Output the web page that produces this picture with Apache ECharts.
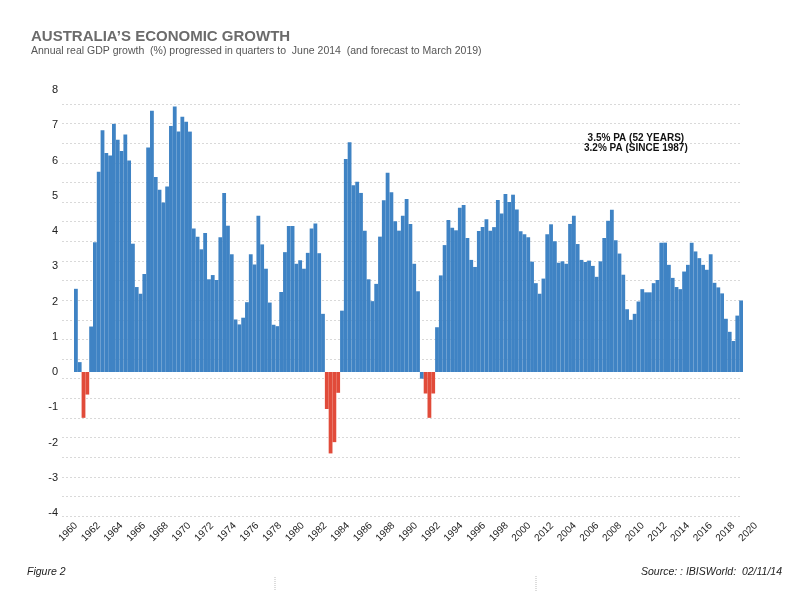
<!DOCTYPE html>
<html lang="en">
<head>
    <meta charset="UTF-8">
    <title>Australia's Economic Growth</title>
    <style>
        html, body { margin: 0; padding: 0; background: #fff; }
    </style>
</head>
<body>
    <div id="main" style="width: 797px;height:591px;"></div>
    <script src="https://cdn.jsdelivr.net/npm/echarts@6/dist/echarts.min.js"></script>
    <script type="text/javascript">
        var myChart = echarts.init(document.getElementById('main'));

        // annual real GDP growth (%), one bar per quarter
        var gdpGrowth = [
            2.36, 0.28, -1.30, -0.64, 1.29, 3.68, 5.68, 6.86, 6.21, 6.14,
            7.04, 6.59, 6.27, 6.74, 6.00, 3.64, 2.41, 2.22, 2.78, 6.37,
            7.41, 5.53, 5.17, 4.81, 5.26, 6.98, 7.53, 6.82, 7.24, 7.10,
            6.82, 4.07, 3.84, 3.48, 3.94, 2.63, 2.75, 2.61, 3.82, 5.08,
            4.15, 3.34, 1.49, 1.35, 1.54, 1.98, 3.34, 3.05, 4.43, 3.62,
            2.93, 1.97, 1.34, 1.30, 2.27, 3.40, 4.14, 4.14, 3.07, 3.17,
            2.93, 3.38, 4.07, 4.21, 3.37, 1.65, -1.05, -2.31, -1.99, -0.59,
            1.74, 6.04, 6.52, 5.30, 5.40, 5.08, 4.01, 2.63, 2.01, 2.50,
            3.84, 4.87, 5.65, 5.10, 4.28, 4.01, 4.43, 4.91, 4.20, 3.07,
            2.29, -0.19, -0.61, -1.30, -0.61, 1.27, 2.74, 3.60, 4.31, 4.09,
            4.02, 4.66, 4.74, 3.80, 3.18, 2.98, 4.00, 4.11, 4.33, 4.01,
            4.11, 4.88, 4.50, 5.05, 4.82, 5.03, 4.61, 3.99, 3.91, 3.82,
            3.13, 2.52, 2.22, 2.65, 3.91, 4.19, 3.71, 3.10, 3.14, 3.07,
            4.20, 4.43, 3.63, 3.18, 3.12, 3.16, 3.01, 2.70, 3.14, 3.80,
            4.29, 4.60, 3.74, 3.36, 2.76, 1.78, 1.48, 1.65, 2.00, 2.35,
            2.26, 2.26, 2.52, 2.61, 3.67, 3.67, 3.04, 2.67, 2.41, 2.35,
            2.85, 3.04, 3.67, 3.42, 3.23, 3.04, 2.90, 3.34, 2.53, 2.40,
            2.23, 1.51, 1.14, 0.88, 1.60, 2.03
        ];
        var barCategories = gdpGrowth.map(function (v, i) { return 'Q' + i; });

        // year labels as printed under the axis (including the "2012" in place of 2002)
        var yearLabels = [
            '1960', '1962', '1964', '1966', '1968', '1970', '1972', '1974',
            '1976', '1978', '1980', '1982', '1984', '1986', '1988', '1990',
            '1992', '1994', '1996', '1998', '2000', '2012', '2004', '2006',
            '2008', '2010', '2012', '2014', '2016', '2018', '2020'
        ];

        var annotationLines = ['3.5% PA (52 YEARS)', '3.2% PA (SINCE 1987)'];

        var BLUE = '#3f83c4';
        var RED = '#e14b3a';
        var FONT = '"Liberation Sans", Arial, Helvetica, sans-serif';

        var option = {
            animation: false,
            textStyle: { fontFamily: FONT },
            title: [{
                text: 'AUSTRALIA\u2019S ECONOMIC GROWTH',
                left: 26, top: 24,
                textStyle: { fontSize: 15, fontWeight: 'bold', color: '#6b6b6b', fontFamily: FONT },
                subtext: 'Annual real GDP growth  (%) progressed in quarters to  June 2014  (and forecast to March 2019)',
                subtextStyle: { fontSize: 10.5, color: '#555', fontFamily: FONT },
                itemGap: 2
            }],
            grid: [
                // bars
                { left: 74, right: 54, top: 90, bottom: 78 },
                // dotted guide lines
                { left: 62, right: 55, top: 104, bottom: 75 },
                // year labels
                { left: 76, right: 41, top: 90, bottom: 78 }
            ],
            xAxis: [{
                gridIndex: 0,
                type: 'category',
                data: barCategories,
                axisLine: { show: false },
                axisTick: { show: false },
                axisLabel: { show: false }
            }, {
                gridIndex: 1,
                type: 'value',
                show: false
            }, {
                gridIndex: 2,
                type: 'category',
                data: yearLabels,
                boundaryGap: false,
                axisLine: { show: false },
                axisTick: { show: false },
                axisLabel: {
                    interval: 0,
                    rotate: 45,
                    margin: 11,
                    fontSize: 10,
                    color: '#222',
                    fontFamily: FONT
                }
            }],
            yAxis: [{
                gridIndex: 0,
                type: 'value',
                min: -4,
                max: 8,
                interval: 1,
                axisLine: { show: false },
                axisTick: { show: false },
                splitLine: { show: false },
                axisLabel: { margin: 16, fontSize: 11, color: '#222', fontFamily: FONT }
            }, {
                gridIndex: 1,
                type: 'value',
                min: 0,
                max: 21,
                interval: 1,
                axisLine: { show: false },
                axisTick: { show: false },
                axisLabel: { show: false },
                splitLine: { lineStyle: { color: '#d9d9d9', type: [2, 2], width: 1 } }
            }, {
                gridIndex: 2,
                type: 'value',
                show: false
            }],
            series: [{
                type: 'bar',
                name: 'GDP growth',
                xAxisIndex: 0,
                yAxisIndex: 0,
                barCategoryGap: '0%',
                data: gdpGrowth.map(function (v) {
                    return {
                        value: v,
                        itemStyle: { color: v < -0.3 ? RED : BLUE }
                    };
                }),
                itemStyle: { borderWidth: 0 }
            }],
            graphic: [{
                type: 'text',
                left: 584, top: 133,
                z: 10,
                style: {
                    text: annotationLines.join('\n'),
                    font: 'bold 10px ' + FONT,
                    fill: '#111',
                    textAlign: 'center',
                    lineHeight: 10,
                    backgroundColor: '#fff'
                }
            }, {
                type: 'text',
                left: 27, top: 567,
                style: { text: 'Figure 2', font: 'italic 10.5px ' + FONT, fill: '#222' }
            }, {
                type: 'text',
                right: 15, top: 567,
                style: { text: 'Source: : IBISWorld:  02/11/14', font: 'italic 10.5px ' + FONT, fill: '#222' }
            }, {
                type: 'line',
                shape: { x1: 275, y1: 577, x2: 275, y2: 591 },
                style: { stroke: '#bbb', lineWidth: 1, lineDash: [1, 1] }
            }, {
                type: 'line',
                shape: { x1: 536, y1: 576, x2: 536, y2: 591 },
                style: { stroke: '#bbb', lineWidth: 1, lineDash: [1, 1] }
            }]
        };

        myChart.setOption(option);
    </script>
</body>
</html>
